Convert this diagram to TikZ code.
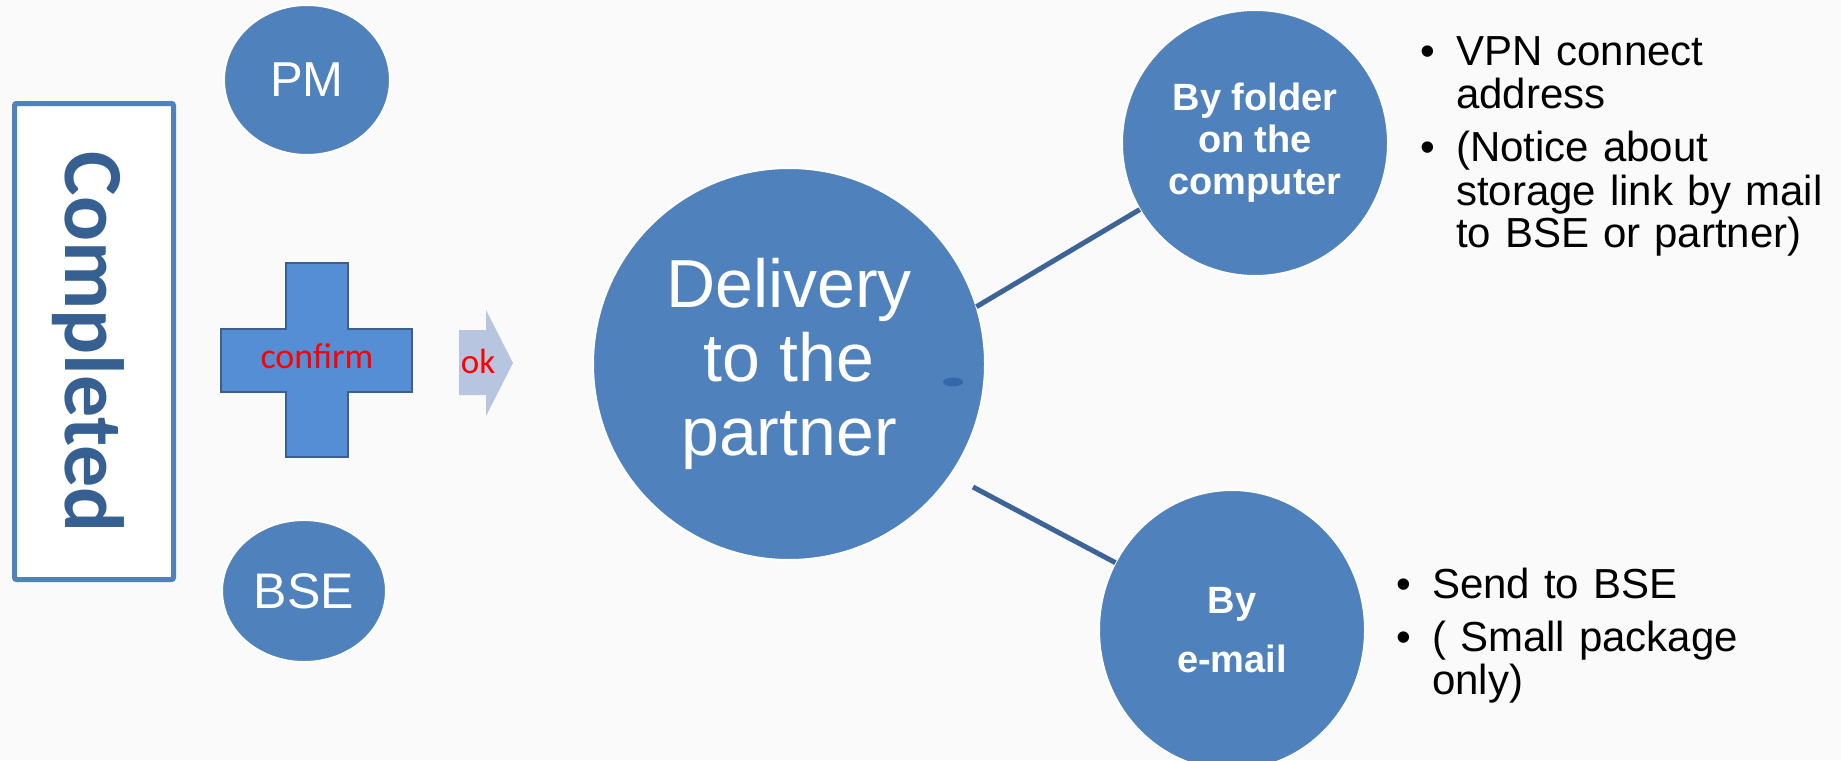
\documentclass[tikz,border=0pt]{standalone}
\usepackage{fontspec}
\setmainfont{Liberation Sans}
\newfontfamily\calib{Carlito}
\usetikzlibrary{shapes.geometric}
\definecolor{circblue}{HTML}{4F81BD}
\definecolor{linkblue}{HTML}{3C6499}
\definecolor{crossfill}{HTML}{558ED5}
\definecolor{crossdraw}{HTML}{3B5F8E}
\definecolor{arrowfill}{HTML}{B7C5E0}
\definecolor{titleblue}{HTML}{376092}
\definecolor{bgcol}{HTML}{FAFAFA}
\definecolor{blobcol}{HTML}{3466AA}
\newcommand\bitem[1]{\hangindent=36pt\hangafter=1\noindent\makebox[36pt][l]{\textbullet}#1\par}
\begin{document}
\begin{tikzpicture}[x=1pt,y=-1pt,
  bub/.style={draw=white, line width=2pt, fill=circblue, text=white, inner sep=0pt, outer sep=0pt, align=center},
  bubcircle/.style={bub, circle},
  bubellipse/.style={bub, ellipse},
  link/.style={draw=linkblue, line width=5pt},
  bullets/.style={text width=440pt, inner sep=0pt, text=black,
     font=\fontsize{42}{43}\selectfont\setlength{\parskip}{10pt}\raggedright},
  redtext/.style={text=red, inner sep=0pt, font=\calib\fontsize{36}{40}\selectfont}
]
\useasboundingbox (0,0) rectangle (1841,760);
\fill[bgcol] (0,0) rectangle (1841,760);

% Completed box
\node[draw=circblue, line width=5pt, fill=white, minimum width=159pt, minimum height=476pt,
      rounded corners=2pt, inner sep=0pt, outer sep=0pt] (box) at (94,341.5) {};
\node[rotate=-90, anchor=base, inner sep=0pt, text=titleblue,
      font=\calib\bfseries\fontsize{84}{90}\selectfont] (completed) at (65,342) {Completed};

% PM and BSE
\node[bubellipse, minimum width=166pt, minimum height=150pt,
      font=\fontsize{49}{55}\selectfont] (pm) at (307,80) {PM};
\node[bubellipse, minimum width=164pt, minimum height=142pt,
      font=\fontsize{50}{56}\selectfont] (bse) at (304,591) {BSE};

% cross
\filldraw[fill=crossfill, draw=crossdraw, line width=1.5pt]
  (286,263) -- (348,263) -- (348,329) -- (412,329) -- (412,392) -- (348,392)
  -- (348,457) -- (286,457) -- (286,392) -- (221,392) -- (221,329) -- (286,329) -- cycle;
\node[redtext, anchor=base] (confirm) at (317,368) {confirm};

% ok arrow
\fill[arrowfill] (459,330) -- (486,330) -- (486,310) -- (513,363) -- (486,416) -- (486,395) -- (459,395) -- cycle;
\node[redtext, anchor=base, font=\calib\fontsize{35}{40}\selectfont] (ok) at (478,373) {ok};

% central circle
\node[bubcircle, minimum size=392pt, font=\fontsize{68}{74}\selectfont] (deliv) at (789,364)
  {Delivery\\to the\\partner};
\fill[blobcol] (953,382) ellipse [x radius=10, y radius=4.5];

% right circles
\node[bubcircle, minimum size=266pt, font=\bfseries\fontsize{38}{42}\selectfont] (folder) at (1255,143)
  {By folder\\on the\\computer};
\node[bubellipse, minimum width=266pt, minimum height=280pt, font=\bfseries\fontsize{38}{59}\selectfont] (email) at (1232,630)
  {By\\e-mail};

% connectors
\coordinate (lowstart) at (973,487);
\draw[link] (deliv.17.5) -- (folder.210);
\draw[link] (lowstart) -- (email.150);

% bullet lists
\node[bullets, anchor=base west] (list1) at (1420,66)
  {\bitem{VPN connect\newline address}\bitem{(Notice about\newline storage link by mail\newline to BSE or partner)}};
\node[bullets, anchor=base west] (list2) at (1396,598)
  {\bitem{Send to BSE}\bitem{( Small package\newline only)}};
\end{tikzpicture}
\end{document}
